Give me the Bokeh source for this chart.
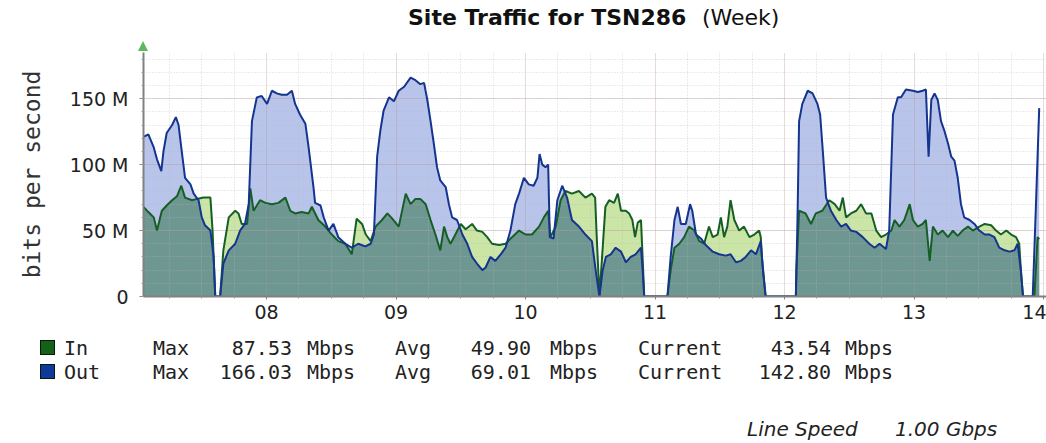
import numpy as np
from bokeh.plotting import figure
from bokeh.layouts import column
from bokeh.models import Range1d, FixedTicker, Div
from bokeh.embed import file_html
from bokeh.resources import INLINE

# ---------------- data (hours since day 07 00:00, Mbps) ----------------
out_hours = [1.2, 2.1, 3.1, 3.7, 4.5, 4.9, 5.5, 6.5, 7.2, 7.7, 8.2, 8.9, 9.9, 10.5, 11.4, 12.0, 12.6, 13.6,
             14.2, 14.5, 15.4, 16.0, 17.0, 18.2, 19.1, 20.0, 20.7, 21.3, 22.2, 23.1, 24.1, 25.0, 25.9, 26.8,
             27.8, 28.7, 29.3, 30.2, 31.2, 31.8, 32.7, 33.0, 34.0, 34.6, 35.5, 36.4, 37.3, 38.6, 39.8, 41.0,
             42.3, 43.3, 43.9, 44.5, 45.1, 45.7, 46.7, 47.6, 48.5, 49.5, 50.7, 51.6, 52.5, 53.2, 53.8, 54.4,
             55.0, 55.6, 56.2, 57.2, 57.8, 58.4, 59.3, 60.3, 61.2, 62.1, 63.0, 64.0, 64.6, 65.5, 66.4, 67.4,
             68.3, 69.2, 70.1, 70.8, 71.7, 72.6, 73.5, 74.2, 74.6, 75.1, 75.7, 76.2, 76.5, 77.2, 77.9, 78.8,
             79.7, 80.6, 81.9, 83.1, 84.3, 85.0, 85.7, 86.3, 86.9, 87.8, 88.7, 89.7, 90.6, 91.5, 92.4, 93.4,
             93.7, 94.0, 98.3, 98.9, 99.6, 100.2, 100.8, 101.7, 102.5, 102.9, 103.6, 104.5, 105.4, 106.7,
             107.9, 109.1, 110.0, 111.0, 111.9, 112.8, 113.8, 114.7, 115.6, 116.0, 116.5, 122.1, 122.4,
             122.7, 123.3, 124.3, 125.2, 126.1, 126.6, 127.1, 127.7, 128.6, 129.6, 130.5, 131.4, 132.3,
             133.3, 134.5, 135.7, 136.7, 137.6, 138.8, 139.4, 140.1, 141.0, 141.6, 142.5, 143.8, 144.7,
             145.6, 146.2, 146.7, 147.2, 147.8, 148.4, 149.0, 149.6, 150.3, 150.9, 151.5, 152.1, 152.7,
             153.3, 154.3, 155.2, 156.1, 157.1, 158.0, 158.9, 159.8, 160.8, 161.7, 162.6, 163.2, 163.8,
             164.2, 166.0, 166.6, 167.2]
out_mbps = [121, 123, 113, 104, 95, 110, 124, 130, 136, 130, 113, 90, 85, 78, 73, 60, 54, 50,
            30, 0, 0, 25, 35, 40, 50, 55, 70, 133, 151, 152, 146, 156, 154, 153,
            153, 156, 146, 138, 131, 113, 83, 71, 69, 60, 50, 55, 45, 40, 37, 40,
            38, 40, 47, 106, 126, 141, 151, 148, 156, 159, 166, 164, 161, 162, 149, 133,
            116, 98, 88, 83, 70, 60, 58, 47, 40, 30, 25, 20, 22, 30, 27, 32,
            37, 50, 70, 78, 90, 85, 84, 90, 108, 100, 98, 100, 45, 44, 73, 84,
            75, 58, 53, 47, 42, 20, 0, 20, 30, 32, 37, 34, 26, 30, 32, 37,
            20, 0, 0, 30, 58, 68, 55, 55, 70, 65, 47, 44, 39, 34,
            32, 31, 32, 26, 27, 30, 35, 32, 42, 20, 0, 0, 58,
            133, 146, 156, 154, 146, 138, 110, 75, 65, 58, 53, 55, 50,
            49, 45, 40, 37, 40, 36, 50, 138, 151, 151, 157, 156, 155,
            156, 157, 106, 149, 154, 149, 133, 126, 116, 106, 103, 90, 70,
            60, 58, 55, 50, 47, 47, 45, 37, 35, 34, 35, 40, 20,
            0, 0, 70, 142.8]

in_hours = [1.2, 2.1, 3.1, 3.7, 4.6, 5.5, 6.5, 7.4, 8.2, 8.9, 10.2, 11.1, 12.3, 13.6, 14.0, 14.5, 15.4,
            16.0, 17.0, 18.2, 18.8, 19.4, 20.4, 21.0, 21.6, 22.8, 23.8, 25.0, 26.2, 27.5, 28.4, 29.3,
            30.5, 31.8, 32.4, 33.6, 34.9, 36.1, 37.3, 38.6, 39.8, 40.7, 41.7, 42.4, 43.3, 44.2, 45.4,
            46.4, 47.3, 48.5, 49.8, 50.7, 51.6, 52.5, 53.5, 54.4, 55.3, 56.2, 56.9, 57.5, 58.1, 59.0,
            60.0, 60.9, 62.1, 63.0, 64.0, 64.9, 65.8, 67.1, 68.3, 69.5, 70.8, 72.0, 73.2, 74.5, 75.4,
            76.2, 76.6, 77.6, 78.5, 79.4, 80.6, 81.9, 83.1, 84.3, 84.9, 85.2, 85.7, 86.3, 86.8, 87.5,
            88.4, 89.1, 89.7, 90.6, 91.2, 91.8, 92.3, 92.8, 93.4, 93.8, 94.0, 98.3, 98.9, 99.6, 100.5,
            101.4, 102.3, 103.3, 104.2, 105.1, 106.0, 106.7, 107.6, 108.2, 108.8, 109.4, 110.0, 110.7,
            111.6, 112.5, 113.5, 114.4, 115.3, 115.6, 115.8, 116.5, 122.1, 122.2, 122.7, 123.9, 124.9,
            125.8, 127.0, 128.3, 129.3, 130.2, 130.8, 131.4, 132.3, 133.3, 134.2, 135.1, 136.1, 137.0,
            137.9, 138.8, 139.8, 140.4, 141.3, 142.2, 143.2, 143.8, 144.7, 145.6, 146.2, 146.9, 147.5,
            148.4, 149.3, 150.3, 151.2, 152.1, 153.0, 154.0, 154.9, 156.1, 157.1, 158.3, 159.2, 160.1,
            161.1, 162.0, 162.9, 163.5, 163.8, 164.2, 166.3, 166.9, 167.2]
in_mbps = [68, 64, 60, 50, 65, 69, 73, 76, 84, 75, 73, 74, 75, 75, 50, 0, 0,
           35, 60, 65, 63, 55, 55, 82, 65, 73, 71, 70, 71, 75, 65, 63,
           64, 63, 68, 58, 53, 47, 42, 40, 32, 59, 55, 47, 42, 53, 58,
           63, 59, 53, 78, 70, 74, 74, 70, 58, 47, 35, 53, 45, 40, 47,
           55, 51, 55, 50, 49, 45, 40, 39, 40, 45, 50, 47, 47, 53, 60,
           65, 45, 53, 73, 80, 78, 80, 75, 78, 75, 45, 0, 37, 68, 73,
           71, 78, 65, 65, 63, 58, 45, 56, 58, 20, 0, 0, 20, 37, 40,
           45, 53, 50, 42, 40, 53, 45, 47, 60, 45, 53, 73, 58,
           50, 53, 45, 47, 50, 45, 30, 0, 0, 20, 65, 63, 55,
           63, 65, 73, 70, 65, 75, 60, 63, 65, 70, 63, 63, 50,
           45, 47, 50, 58, 53, 58, 70, 58, 53, 55, 58, 27, 53,
           47, 50, 45, 50, 46, 50, 53, 50, 53, 55, 54, 50, 47,
           50, 47, 45, 40, 20, 0, 0, 45, 43.54]

series_names = ["In", "Out"]
series_colors = ["#14621a", "#0f3a9a"]
in_stats = [87.53, 49.90, 43.54]      # Max, Avg, Current (Mbps)
out_stats = [166.03, 69.01, 142.80]
line_speed = "1.00 Gbps"

day_ticks = [24, 48, 72, 96, 120, 144, 168]
day_labels = ["08", "09", "10", "11", "12", "13", "14"]
y_ticks = [0, 50, 100, 150]
y_labels = ["0", "50 M", "100 M", "150 M"]

# ---------------- derived geometry: overlap of the two areas ----------------
t_in = np.array(in_hours, float); v_in = np.array(in_mbps, float)
t_out = np.array(out_hours, float); v_out = np.array(out_mbps, float)
t_all = np.union1d(t_in, t_out)
a = np.interp(t_all, t_in, v_in)
b = np.interp(t_all, t_out, v_out)
d = a - b
xs, ys = [], []
for i in range(len(t_all)):
    xs.append(t_all[i]); ys.append(min(a[i], b[i]))
    if i < len(t_all) - 1 and d[i] * d[i + 1] < 0:
        f = d[i] / (d[i] - d[i + 1])
        xs.append(t_all[i] + f * (t_all[i + 1] - t_all[i]))
        ys.append(a[i] + f * (a[i + 1] - a[i]))

# ---------------- layout constants (page pixels) ----------------
W = 1046
TOP_H = 52          # title strip
MAIN_H = 278        # plot strip (frame 52..296)
BOT_H = 443 - TOP_H - MAIN_H
FRAME_LEFT = 143
FRAME_H = 244
PX_PER_HOUR = 129.5 / 24
x0 = 1.2
x1 = x0 + (W - FRAME_LEFT) / PX_PER_HOUR

ASC = 0.846  # baseline offset (em) for DejaVu fonts with line-height 1


def span(text, X, base, size=19, font="DejaVu Sans", weight="normal", style="normal",
         align="left", color="#222222"):
    top = base - ASC * size
    pos = f"left:{X}px;" if align == "left" else f"right:{W - X}px;"
    return (f'<span style="position:absolute;{pos}top:{top:.1f}px;font-family:\'{font}\';'
            f'font-size:{size}px;line-height:1;font-weight:{weight};font-style:{style};'
            f'color:{color};white-space:pre;">{text}</span>')


def strip(items, h):
    html = (f'<div style="position:relative;width:{W}px;height:{h}px;overflow:hidden;'
            f'background:white;">' + "".join(items) + "</div>")
    return Div(text=html, width=W, height=h, margin=0)


# ---------------- title strip ----------------
top_items = [
    span("Site Traffic for TSN286", 408, 26, size=22, weight="bold", color="#111111"),
    span("(Week)", 702, 26, size=22, color="#111111"),
    '<div style="position:absolute;left:138px;top:41px;width:0;height:0;'
    'border-left:5px solid transparent;border-right:5px solid transparent;'
    'border-bottom:10px solid #5cb85c;"></div>',
]
top = strip(top_items, TOP_H)

# ---------------- main plot ----------------
p = figure(width=W, height=MAIN_H, output_backend="svg", toolbar_location=None,
           x_range=Range1d(x0, x1), y_range=Range1d(0, 185),
           min_border_left=FRAME_LEFT, min_border_right=0, min_border_top=0,
           min_border_bottom=MAIN_H - FRAME_H)
p.outline_line_color = None
p.background_fill_color = "white"
p.border_fill_color = "white"

six_hour = [h for h in range(0, 174, 6) if h % 24 != 0]
y_minor = list(range(0, 190, 10))
xt = FixedTicker(ticks=day_ticks, minor_ticks=six_hour)
yt = FixedTicker(ticks=y_ticks, minor_ticks=y_minor)

r1 = p.varea(x=t_out, y1=0, y2=v_out, fill_color="#b8c4ea")
r2 = p.varea(x=t_in, y1=0, y2=v_in, fill_color="#cbe5a6")
r3 = p.varea(x=np.array(xs), y1=0, y2=np.array(ys), fill_color="#6f9792")
for r in (r1, r2, r3):
    r.level = "image"

for g, t in ((p.xgrid[0], xt), (p.ygrid[0], yt)):
    g.ticker = t
    g.level = "underlay"   # above the filled areas, below the lines
    g.grid_line_color = "#b89494"
    g.grid_line_alpha = 0.7
    g.grid_line_dash = "1 1"
    g.minor_grid_line_color = "#b8b8b8"
    g.minor_grid_line_alpha = 0.55
    g.minor_grid_line_dash = "1 2"

p.line(t_in, v_in, line_color="#155f25", line_width=2)
p.line(t_out, v_out, line_color="#14348f", line_width=2)

for ax, t, labs in ((p.xaxis[0], xt, day_labels), (p.yaxis[0], yt, y_labels)):
    ax.ticker = t
    ax.major_label_overrides = {k: v for k, v in zip(t.ticks, labs)}
    ax.axis_line_color = "#808080"
    ax.axis_line_width = 2
    ax.major_tick_line_color = "#808080"
    ax.minor_tick_line_color = "#9a9a9a"
    ax.major_tick_in = 0
    ax.minor_tick_in = 0
    ax.minor_tick_out = 2
    ax.major_label_text_font = "DejaVu Sans"
    ax.major_label_text_font_size = "19px"
    ax.major_label_text_color = "#222222"

p.xaxis[0].major_tick_out = 3
p.xaxis[0].major_label_standoff = 5
p.yaxis[0].major_tick_out = 4
p.yaxis[0].major_label_standoff = 11
p.yaxis[0].axis_label = "bits per second"
p.yaxis[0].axis_label_text_font = "DejaVu Sans Mono"
p.yaxis[0].axis_label_text_font_size = "23px"
p.yaxis[0].axis_label_text_font_style = "normal"
p.yaxis[0].axis_label_text_color = "#333333"
p.yaxis[0].axis_label_standoff = 22

# ---------------- legend strip ----------------
Y0 = TOP_H + MAIN_H      # page y of the strip top
mono = "DejaVu Sans Mono"
bot_items = []
for name, stats, base, col in ((series_names[0], in_stats, 355, series_colors[0]),
                               (series_names[1], out_stats, 379, series_colors[1])):
    sy = base - Y0
    bot_items.append(f'<div style="position:absolute;left:40px;top:{sy - 15}px;width:15px;'
                     f'height:15px;background:{col};border:1px solid #0a1a0a;"></div>')
    bot_items += [
        span(name, 64, sy, size=20, font=mono),
        span("Max", 153, sy, size=20, font=mono),
        span(f"{stats[0]:.2f}", 292, sy, size=20, font=mono, align="right"),
        span("Mbps", 307, sy, size=20, font=mono),
        span("Avg", 395, sy, size=20, font=mono),
        span(f"{stats[1]:.2f}", 531, sy, size=20, font=mono, align="right"),
        span("Mbps", 550, sy, size=20, font=mono),
        span("Current", 638, sy, size=20, font=mono),
        span(f"{stats[2]:.2f}", 831, sy, size=20, font=mono, align="right"),
        span("Mbps", 845, sy, size=20, font=mono),
    ]
bot_items.append(span("Line Speed", 747, 436 - Y0, size=20, style="italic"))
bot_items.append(span(line_speed, 895, 436 - Y0, size=20, style="italic"))
bot = strip(bot_items, BOT_H)

open("out.html", "w").write(file_html(column(top, p, bot, spacing=0), INLINE))
